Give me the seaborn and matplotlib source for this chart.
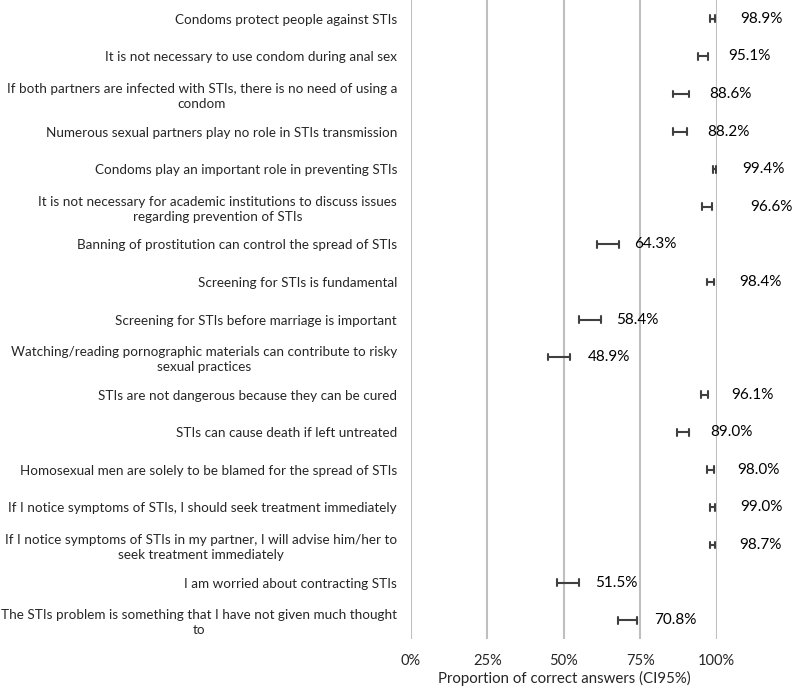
import pandas as pd
import seaborn as sns
import matplotlib.pyplot as plt

statements = [
    "Condoms protect people against STIs",
    "It is not necessary to use condom during anal sex",
    "If both partners are infected with STIs, there is no need of using a\ncondom",
    "Numerous sexual partners play no role in STIs transmission",
    "Condoms play an important role in preventing STIs",
    "It is not necessary for academic institutions to discuss issues\nregarding prevention of STIs",
    "Banning of prostitution can control the spread of STIs",
    "Screening for STIs is fundamental",
    "Screening for STIs before marriage is important",
    "Watching/reading pornographic materials can contribute to risky\nsexual practices",
    "STIs are not dangerous because they can be cured",
    "STIs can cause death if left untreated",
    "Homosexual men are solely to be blamed for the spread of STIs",
    "If I notice symptoms of STIs, I should seek treatment immediately",
    "If I notice symptoms of STIs in my partner, I will advise him/her to\nseek treatment immediately",
    "I am worried about contracting STIs",
    "The STIs problem is something that I have not given much thought\nto",
]

proportion = [0.989, 0.951, 0.886, 0.882, 0.994, 0.966, 0.643, 0.984, 0.584,
              0.489, 0.961, 0.890, 0.980, 0.990, 0.987, 0.515, 0.708]
ci_low = [0.979, 0.938, 0.858, 0.858, 0.988, 0.951, 0.607, 0.967, 0.549,
          0.447, 0.949, 0.869, 0.967, 0.979, 0.977, 0.478, 0.678]
ci_high = [0.996, 0.973, 0.910, 0.902, 0.998, 0.986, 0.680, 0.992, 0.621,
           0.521, 0.973, 0.910, 0.991, 0.996, 0.994, 0.551, 0.740]

x_ticks = [0, 0.25, 0.5, 0.75, 1.0]
x_tick_labels = ["0%", "25%", "50%", "75%", "100%"]

# long table: the two CI bounds per statement, pointplot draws min-max range
df = pd.DataFrame({
    "statement": statements * 2,
    "bound": ci_low + ci_high,
})

sns.set_theme(style="white")
plt.rcParams["font.family"] = ["Lato", "DejaVu Sans"]

fig = plt.figure(figsize=(7.94, 6.91), dpi=100)
ax = fig.add_axes([0.5176, 0.0752, 0.385, 0.9248])

for x in x_ticks:
    ax.axvline(x, color="#bfbfbf", linewidth=1.5, zorder=0)

sns.pointplot(data=df, x="bound", y="statement", order=statements,
              estimator="mean", errorbar=("pi", 100), capsize=0.18,
              linestyle="none", marker="", color="#404040",
              err_kws={"linewidth": 1.5}, ax=ax)

for i, p in enumerate(proportion):
    nudge = 44 if i == 5 else 27
    ax.annotate("{:.1f}%".format(p * 100), xy=(p, i), xytext=(nudge, 0),
                textcoords="offset pixels", ha="left", va="center",
                fontsize=11, color="black", annotation_clip=False)

ax.set_xlim(0, 1)
ax.set_xticks(x_ticks)
ax.set_xticklabels(x_tick_labels, fontsize=10.5, color="#262626")
ax.set_yticklabels(statements, fontsize=9.7, color="#262626", ha="right",
                   multialignment="center", linespacing=1.3)
ax.tick_params(axis="x", length=0, pad=11)
ax.tick_params(axis="y", length=0, pad=10)
ax.set_xlabel("Proportion of correct answers (CI95%)", fontsize=10.8,
              color="#262626", labelpad=2)
ax.set_ylabel("")

for s in ax.spines.values():
    s.set_visible(False)

plt.savefig("out.png", dpi=100)
